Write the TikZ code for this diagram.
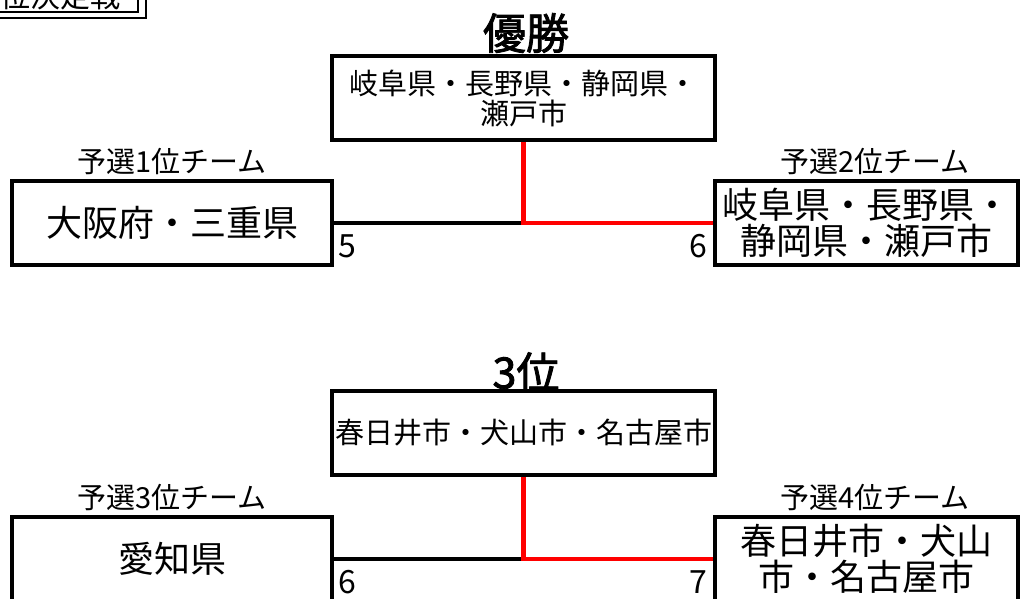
\documentclass[tikz,border=0pt]{standalone}
\usepackage{fontspec}
\newfontfamily\jp{Noto Sans CJK JP}
\newfontfamily\jpbold{Noto Sans CJK JP}[FakeBold=2]
\tikzset{
  box/.style={draw, line width=3.5pt, minimum height=84pt, inner sep=0pt, align=center},
  team/.style={box, font=\jp\fontsize{36}{36}\selectfont},
  finalbox/.style={box, minimum width=383pt, font=\jp\fontsize{29}{30}\selectfont},
  rank/.style={font=\jp\fontsize{29}{29}\selectfont, inner sep=0pt},
  title/.style={font=\jpbold\fontsize{43}{43}\selectfont, inner sep=0pt},
  score/.style={font=\jp\fontsize{32}{32}\selectfont, inner sep=0pt},
  link/.style={line width=3.5pt, black},
  win/.style={line width=4.5pt, red}
}
\begin{document}
\begin{tikzpicture}[x=1pt,y=-1pt]
\clip (0,0) rectangle (1027,598);
\fill[white] (0,0) rectangle (1027,598);
% top-left header box (cut off)
\draw[line width=2pt] (-10,-30) -- (146,-30) -- (146,18) -- (-10,18);
\draw[line width=2pt] (-10,-30) -- (138,-30) -- (138,11.5) -- (-10,11.5);
\node[font=\jp\fontsize{30}{30}\selectfont, anchor=base east, inner sep=0pt] (hdr) at (121,7) {順位決定戦};

% ===== Final =====
\node[title] (t1) at (526,33) {優勝};
\node[finalbox] (c1) at (523.5,98) {岐阜県・長野県・静岡県・\\瀬戸市};
\node[team, minimum width=320pt] (l1) at (172,223) {大阪府・三重県};
\node[team, minimum width=303pt] (r1) at (866.5,223) {岐阜県・長野県・\\静岡県・瀬戸市};
\node[rank] (lr1) at (172,161) {予選1位チーム};
\node[rank] (rr1) at (875,161) {予選2位チーム};
\coordinate (m1) at (c1.south |- l1.east);
\draw[link] (l1.east) -- (m1);
\draw[win] (c1.south) |- (r1.west);
\node[score, anchor=north west, xshift=5pt, yshift=-11pt] (s1) at (l1.east) {5};
\node[score, anchor=north east, xshift=-6pt, yshift=-11pt] (s2) at (r1.west) {6};

% ===== 3rd place =====
\node[title] (t2) at (526,372) {3位};
\node[finalbox] (c2) at (523.5,433) {春日井市・犬山市・名古屋市};
\node[team, minimum width=320pt] (l2) at (172,559) {愛知県};
\node[team, minimum width=303pt] (r2) at (866.5,559) {春日井市・犬山\\市・名古屋市};
\node[rank] (lr2) at (172,497) {予選3位チーム};
\node[rank] (rr2) at (875,497) {予選4位チーム};
\coordinate (m2) at (c2.south |- l2.east);
\draw[link] (l2.east) -- (m2);
\draw[win] (c2.south) |- (r2.west);
\node[score, anchor=north west, xshift=5pt, yshift=-11pt] (s3) at (l2.east) {6};
\node[score, anchor=north east, xshift=-6pt, yshift=-11pt] (s4) at (r2.west) {7};
\end{tikzpicture}
\end{document}
